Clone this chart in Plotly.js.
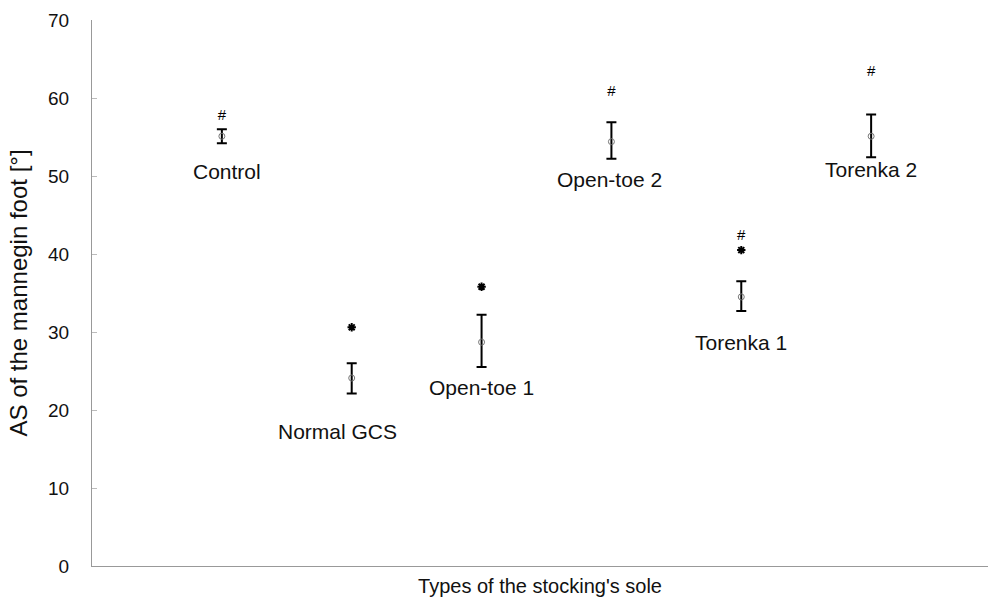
<!DOCTYPE html>
<html>
<head>
<meta charset="utf-8">
<script src="https://cdn.plot.ly/plotly-3.0.1.min.js"></script>
<style>html,body{margin:0;padding:0;background:#fff;}#chart{width:989px;height:606px;}</style>
</head>
<body>
<div id="chart"></div>
<script>
// Data
const categories = ['Control', 'Normal GCS', 'Open-toe 1', 'Open-toe 2', 'Torenka 1', 'Torenka 2'];
const positions = [1, 2, 3, 4, 5, 6];
const means = [55.1, 24.1, 28.7, 54.4, 34.5, 55.1];
const upper = [56.0, 26.0, 32.2, 56.9, 36.5, 57.9];
const lower = [54.2, 22.1, 25.5, 52.2, 32.7, 52.4];
const starY = [null, 30.6, 35.8, null, 40.5, null];
const hashY = [57.7, null, null, 60.8, 42.3, 63.3];
const labelY = [50.6, 17.2, 22.9, 49.5, 28.7, 50.8];
const labelShift = [5, -14, 0, -2, 0, 0];
const yTicks = [0, 10, 20, 30, 40, 50, 60, 70];

const FONT = 'Liberation Sans, Arial, sans-serif';

const errPlus = means.map((m, i) => +(upper[i] - m).toFixed(2));
const errMinus = means.map((m, i) => +(m - lower[i]).toFixed(2));

const traces = [
  {
    type: 'scatter', mode: 'markers', x: positions, y: means,
    marker: {symbol: 'circle-open', size: 6, color: '#777', line: {width: 1, color: '#777'}},
    error_y: {type: 'data', symmetric: false, array: errPlus, arrayminus: errMinus,
              color: '#000', thickness: 2, width: 5},
    hoverinfo: 'skip', showlegend: false
  },
  {
    // significance asterisks (*)
    type: 'scatter', mode: 'markers', x: positions, y: starY,
    marker: {symbol: 'asterisk-open', size: 7, color: '#000', line: {width: 2, color: '#000'}},
    hoverinfo: 'skip', showlegend: false
  },
  {
    type: 'scatter', mode: 'text', x: positions, y: hashY,
    text: hashY.map(v => v == null ? '' : '#'),
    textposition: 'middle center',
    textfont: {family: FONT, size: 15, color: '#000'},
    hoverinfo: 'skip', showlegend: false
  }
];

const annotations = categories.map((c, i) => ({
  x: positions[i], y: labelY[i], xref: 'x', yref: 'y', text: c,
  showarrow: false, xshift: labelShift[i],
  font: {family: FONT, size: 21, color: '#111'}
}));

const layout = {
  width: 989, height: 606,
  margin: {l: 92, r: 1, t: 20, b: 40},
  paper_bgcolor: '#fff', plot_bgcolor: '#fff',
  font: {family: FONT, size: 19, color: '#111'},
  showlegend: false,
  xaxis: {
    range: [0, 6.9], showticklabels: false, ticks: '', showgrid: false, zeroline: false,
    showline: true, linecolor: '#999', linewidth: 1, automargin: false,
    title: {text: "Types of the stocking's sole", font: {family: FONT, size: 20, color: '#111'}, standoff: 12}
  },
  yaxis: {
    range: [0, 70], tickvals: yTicks, ticktext: yTicks.map(String),
    ticks: 'inside', ticklen: 5, tickcolor: '#bbb', tickwidth: 1,
    showgrid: false, zeroline: false, showline: true, linecolor: '#999', linewidth: 1,
    ticklabelstandoff: 18, automargin: false,
    tickfont: {family: FONT, size: 19, color: '#111'},
    title: {text: 'AS of the mannegin foot [°]', font: {family: FONT, size: 24, color: '#111'}, standoff: 13}
  },
  annotations: annotations
};

Plotly.newPlot('chart', traces, layout, {displayModeBar: false, staticPlot: true});
</script>
</body>
</html>
